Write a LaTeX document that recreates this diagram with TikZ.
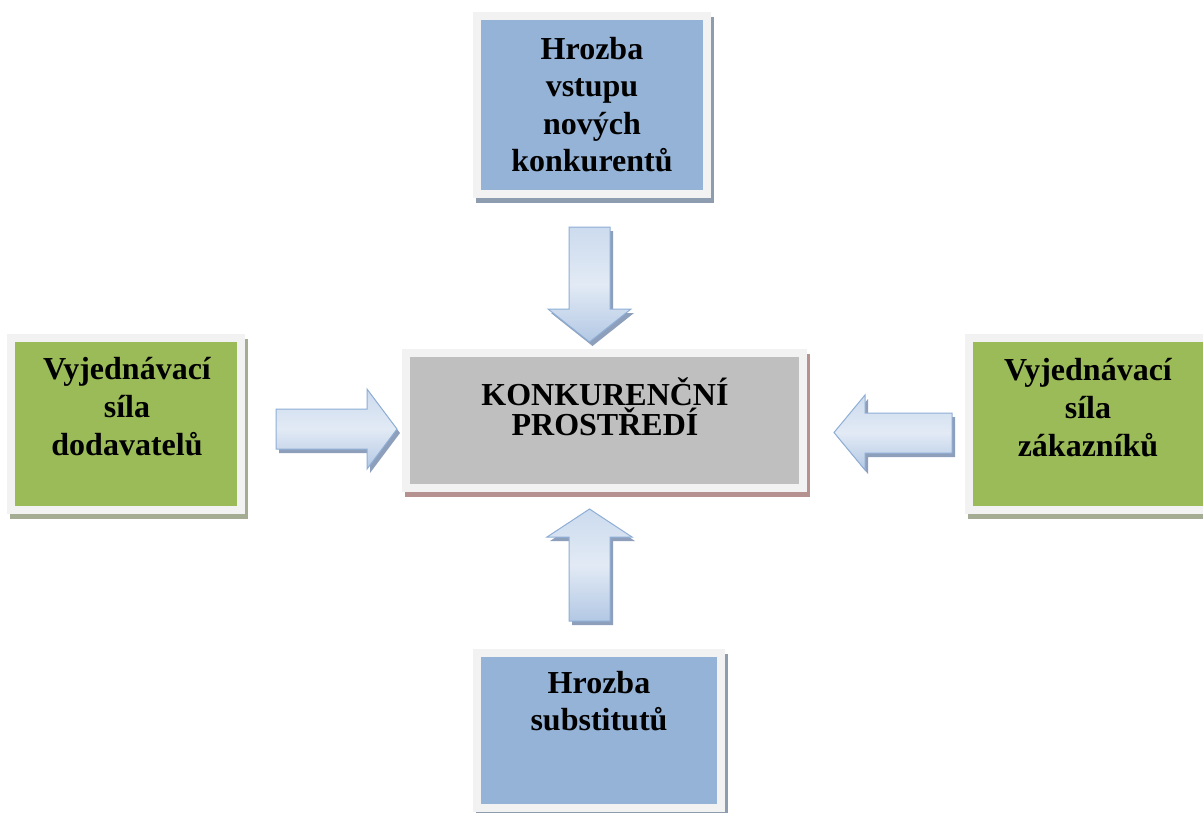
\documentclass[tikz,border=0pt]{standalone}
\usepackage{fontspec}
\setmainfont{Liberation Serif}
\begin{document}
\definecolor{framecol}{HTML}{F2F2F2}
\definecolor{boxblue}{HTML}{95B3D7}
\definecolor{boxgreen}{HTML}{9BBB59}
\definecolor{boxgrey}{HTML}{BFBFBF}
\definecolor{shblue}{HTML}{8E9CB0}
\definecolor{shgreen}{HTML}{A4AD94}
\definecolor{shrose}{HTML}{B59290}
\definecolor{arrline}{HTML}{8FAED6}
\definecolor{arrlight}{HTML}{E2EAF5}
\definecolor{arrmid}{HTML}{CCDBEE}
\definecolor{arrdark}{HTML}{B3C8E4}
\definecolor{arrshadow}{HTML}{8D9FBA}
\begin{tikzpicture}[x=1pt,y=-1pt,
  box/.style={rectangle, inner sep=0pt, fill=#1, draw=framecol, line width=8pt},
  shadowed/.style={preaction={fill=#1, draw=#1, line width=8pt,
      transform canvas={xshift=3pt,yshift=-5pt}}},
  label/.style={font=\bfseries\fontsize{32}{37.5}\selectfont, align=center,
      inner sep=0pt, anchor=base},
  blockarrow/.style={draw=arrline, line width=1pt, line join=miter,
      top color=arrmid, bottom color=arrdark, middle color=arrlight,
      shading angle=#1,
      preaction={fill=arrshadow, transform canvas={xshift=3pt,yshift=-4pt}}},
  blockarrow/.default=0]
\clip (0,0) rectangle (1203,812);
\fill[white] (0,0) rectangle (1203,812);

% the five boxes: shadow, light frame, coloured body
\node[box=boxblue, shadowed=shblue, minimum width=230pt, minimum height=178pt]
  (entry) at (592,105) {};
\node[box=boxgrey, shadowed=shrose, minimum width=397pt, minimum height=135pt]
  (market) at (604.5,420.5) {};
\node[box=boxgreen, shadowed=shgreen, minimum width=230pt, minimum height=172pt]
  (suppliers) at (126,424) {};
\node[box=boxgreen, shadowed=shgreen, minimum width=238pt, minimum height=172pt]
  (customers) at (1088,424) {};
\node[box=boxblue, shadowed=shblue, minimum width=244pt, minimum height=155pt]
  (substitutes) at (599,730.5) {};

% box texts (placed by the baseline of their last line)
\node[label] (entrytext) at (592,171.5) {Hrozba\\vstupu\\nových\\konkurentů};
\node[label, font=\bfseries\fontsize{32}{30}\selectfont] (markettext) at (605,435)
  {KONKURENČNÍ\\PROSTŘEDÍ};
\node[label, font=\bfseries\fontsize{32}{38}\selectfont] (supplierstext) at (127,455)
  {Vyjednávací\\síla\\dodavatelů};
\node[label, font=\bfseries\fontsize{32}{38}\selectfont] (customerstext) at (1088,456)
  {Vyjednávací\\síla\\zákazníků};
\node[label] (substitutestext) at (599,730.5) {Hrozba\\substitutů};

% block arrows pointing at the central box
\draw[blockarrow=0] (569,227) -- (610,227) -- (610,309) -- (631,309)
  -- (589.5,342) -- (548,309) -- (569,309) -- cycle;
\draw[blockarrow=0] (569,621) -- (610,621) -- (610,537) -- (632,537)
  -- (589.5,509) -- (547,537) -- (569,537) -- cycle;
\draw[blockarrow=0] (276,409) -- (367,409) -- (367,389) -- (397,429)
  -- (367,469) -- (367,449) -- (276,449) -- cycle;
\draw[blockarrow=0] (952,413) -- (865,413) -- (865,395) -- (834,432.5)
  -- (865,470) -- (865,453) -- (952,453) -- cycle;
\end{tikzpicture}
\end{document}
